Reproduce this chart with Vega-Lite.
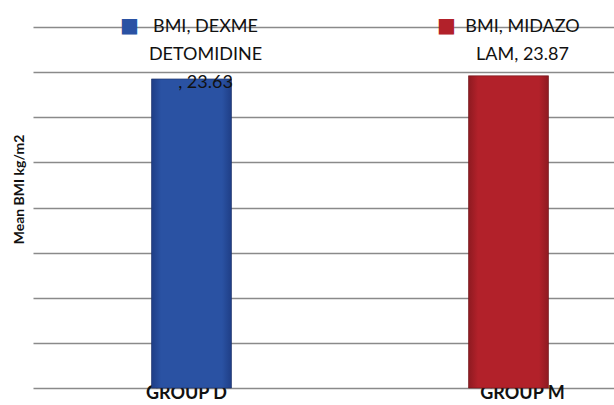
{
  "$schema": "https://vega.github.io/schema/vega-lite/v6.json",
  "width": 581,
  "height": 361,
  "autosize": {"type": "none"},
  "padding": {"left": 33, "top": 27, "right": 0, "bottom": 17},
  "background": "white",
  "config": {"view": {"stroke": null}},
  "data": {
    "values": [
      {"group": "GROUP D", "drug": "DEXMEDETOMIDINE", "bmi": 23.63, "label": "BMI, DEXME\nDETOMIDINE\n, 23.63"},
      {"group": "GROUP M", "drug": "MIDAZOLAM", "bmi": 23.87, "label": "BMI, MIDAZO\nLAM, 23.87"}
    ]
  },
  "encoding": {
    "x": {
      "field": "group",
      "type": "nominal",
      "sort": null,
      "scale": {"range": [0, 634], "paddingInner": 0, "paddingOuter": 0},
      "axis": {
        "title": null,
        "labelAngle": 0,
        "ticks": false,
        "domain": false,
        "labelFont": "Lato",
        "labelFontWeight": "bold",
        "labelFontSize": 18,
        "labelColor": "#111111",
        "labelBaseline": "alphabetic",
        "labelPadding": 10,
        "labelOffset": {"condition": {"test": "datum.value === 'GROUP M'", "value": 14}, "value": -5}
      }
    },
    "y": {
      "field": "bmi",
      "type": "quantitative",
      "scale": {"domain": [0, 27.6], "nice": false, "zero": true},
      "axis": {
        "title": "Mean BMI kg/m2",
        "titleFont": "Lato",
        "titleFontWeight": "bold",
        "titleFontSize": 14,
        "titleColor": "#111111",
        "titleAngle": -90,
        "titleAlign": "center",
        "titleBaseline": "middle",
        "titleX": -14,
        "titleY": 162,
        "values": [0, 3.45, 6.9, 10.35, 13.8, 17.25, 20.7, 24.15, 27.6],
        "labels": false,
        "ticks": false,
        "domain": false,
        "grid": true,
        "gridColor": "#8a8a8a",
        "gridWidth": 1.5
      }
    }
  },
  "layer": [
    {
      "transform": [{"filter": "datum.group === 'GROUP D'"}],
      "mark": {
        "type": "bar", "size": 80, "stroke": "#1a2f66", "strokeOpacity": 0.6, "strokeWidth": 1,
        "fill": {"gradient": "linear", "x1": 0, "y1": 0, "x2": 1, "y2": 0,
          "stops": [{"offset": 0, "color": "#1f3e86"}, {"offset": 0.12, "color": "#2a52a3"}, {"offset": 0.88, "color": "#2a52a3"}, {"offset": 1, "color": "#1f3e86"}]}
      }
    },
    {
      "transform": [{"filter": "datum.group === 'GROUP M'"}],
      "mark": {
        "type": "bar", "size": 80, "stroke": "#6e1218", "strokeOpacity": 0.6, "strokeWidth": 1,
        "fill": {"gradient": "linear", "x1": 0, "y1": 0, "x2": 1, "y2": 0,
          "stops": [{"offset": 0, "color": "#8e1a21"}, {"offset": 0.12, "color": "#b2212a"}, {"offset": 0.88, "color": "#b2212a"}, {"offset": 1, "color": "#8e1a21"}]}
      }
    },
    {
      "mark": {"type": "text", "font": "DejaVu Sans", "fontSize": 20, "align": "center", "baseline": "middle", "dx": -62, "dy": -1, "text": "■"},
      "encoding": {
        "y": {"datum": 27.6, "type": "quantitative"},
        "color": {"field": "group", "type": "nominal", "legend": null,
          "scale": {"domain": ["GROUP D", "GROUP M"], "range": ["#2a52a3", "#b2212a"]}}
      }
    },
    {
      "mark": {"type": "text", "font": "Lato", "fontSize": 18, "color": "#111111", "align": "center", "baseline": "top", "lineBreak": "\n", "lineHeight": 28, "dx": 14, "dy": -9},
      "encoding": {
        "y": {"datum": 27.6, "type": "quantitative"},
        "text": {"field": "label"}
      }
    }
  ]
}
